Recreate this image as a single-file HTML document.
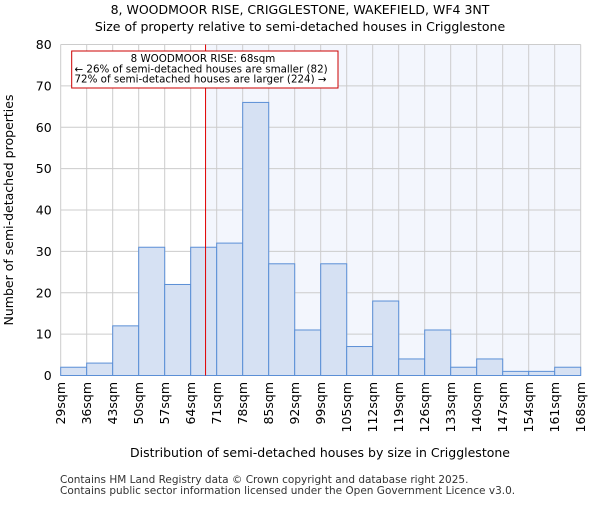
<!DOCTYPE html>
<html><head><meta charset="utf-8"><style>
body{margin:0;background:#fff}
svg{font-family:"DejaVu Sans","Liberation Sans",sans-serif}
</style></head><body>
<svg id="c" width="600" height="500" xmlns="http://www.w3.org/2000/svg">
<text x="300" y="14" text-anchor="middle" font-size="12.5">8, WOODMOOR RISE, CRIGGLESTONE, WAKEFIELD, WF4 3NT</text>
<text x="300" y="31" text-anchor="middle" font-size="12.5">Size of property relative to semi-detached houses in Crigglestone</text>
<g id="plot"></g>
<text x="320" y="457" text-anchor="middle" font-size="12.5">Distribution of semi-detached houses by size in Crigglestone</text>
<text transform="translate(13,210) rotate(-90)" text-anchor="middle" font-size="12.5">Number of semi-detached properties</text>
<text x="60" y="483" font-size="10.5" fill="#333">Contains HM Land Registry data © Crown copyright and database right 2025.</text>
<text x="60" y="494" font-size="10.5" fill="#333">Contains public sector information licensed under the Open Government Licence v3.0.</text>
</svg>
<script>
const edges=["29sqm","36sqm","43sqm","50sqm","57sqm","64sqm","71sqm","78sqm","85sqm","92sqm","99sqm","105sqm","112sqm","119sqm","126sqm","133sqm","140sqm","147sqm","154sqm","161sqm","168sqm"];
const counts=[2,3,12,31,22,31,32,66,27,11,27,7,18,4,11,2,4,1,1,2];
const yTicks=[0,10,20,30,40,50,60,70,80];
const propertyIndex=5+4/7; // 68sqm between 64 and 71
const X0=60.7,BW=26,Y0=375.5,YT=44.5,YMAX=80;
const xs=i=>X0+i*BW, ys=v=>Y0-(Y0-YT)*v/YMAX;
const NS="http://www.w3.org/2000/svg",g=document.getElementById('plot');
function mk(t,a){const e=document.createElementNS(NS,t);for(const k in a)e.setAttribute(k,a[k]);g.appendChild(e);return e;}
const n=counts.length, xr=xs(propertyIndex);
let r=mk('rect',{x:xr,y:YT,width:xs(n)-xr,height:Y0-YT,fill:'#f3f6fd'});


for(let i=0;i<=n;i++){let l=mk('line',{x1:xs(i),x2:xs(i),y1:YT,y2:Y0,stroke:'#ccc','stroke-width':1});

}
yTicks.forEach(v=>{let l=mk('line',{x1:X0,x2:xs(n),y1:ys(v),y2:ys(v),stroke:'#ccc','stroke-width':1});


let t=mk('text',{x:X0-9,y:ys(v)+4.5,'text-anchor':'end','font-size':'12.5'});t.textContent=v;

});
counts.forEach((c,i)=>{let b=mk('rect',{x:xs(i),y:ys(c),width:BW,height:Y0-ys(c),fill:'#d6e1f3',stroke:'#5b8fd6','stroke-width':1});

});
edges.forEach((e,i)=>{let t=mk('text',{transform:`translate(${xs(i)+4.5},382) rotate(-90)`,'text-anchor':'end','font-size':'12.5'});t.textContent=e;

});
let rl=mk('line',{x1:xr,x2:xr,y1:YT,y2:Y0,stroke:'#e00000','stroke-width':1});


let bx=mk('rect',{x:71.7,y:51,width:266.3,height:37,fill:'#fff',stroke:'#c00','stroke-width':1});


["8 WOODMOOR RISE: 68sqm","← 26% of semi-detached houses are smaller (82)","72% of semi-detached houses are larger (224) →"].forEach((s,i)=>{
let t=mk('text',{x:i==0?203:74.5,y:62+i*10.3,'text-anchor':i==0?'middle':'start','font-size':'10.3'});t.textContent=s;

});
</script>
</body></html>
